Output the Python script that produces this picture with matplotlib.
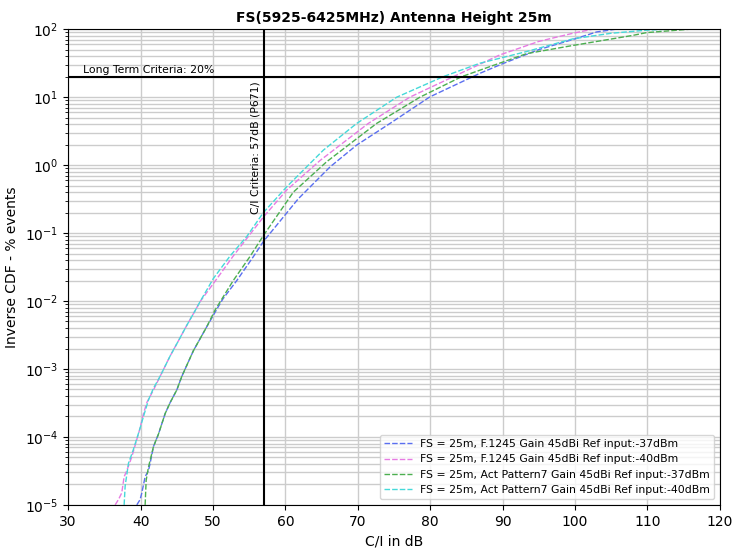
import numpy as np
from matplotlib import pyplot as plt

# curve data (C/I dB, % events)
f1245_37_x = [39.48, 39.94, 40.17, 40.63, 41.09, 41.32, 41.78, 42.47, 43.39, 44.08, 45.0, 45.7, 47.3, 49.15,
              50.6, 51.36, 53.29, 55.58, 57.0, 61.79, 66.17, 69.85, 74.45, 79.97, 86.87, 90.0, 95.0, 100.0,
              103.0, 105.7, 120]
f1245_37_y = [1.0e-5, 1.2e-5, 1.5e-5, 2.6e-5, 3.2e-5, 4.1e-5, 7.2e-5, 1.1e-4, 2.2e-4, 3.2e-4, 4.9e-4, 7.8e-4,
              1.86e-3, 4.2e-3, 7.8e-3, 1.07e-2, 2.0e-2, 4.5e-2, 7.6e-2, 0.32, 0.94, 1.97, 4.1, 10.1, 22.4, 31,
              50, 72, 91, 100, 100]

f1245_40_x = [36.49, 36.95, 37.4, 37.73, 38.1, 38.79, 39.85, 40.4, 40.86, 41.78, 42.7, 44.08, 45.23, 46.39,
              47.53, 48.22, 50.5, 52.8, 57.0, 60.19, 64.8, 71.45, 77.2, 83.2, 89.6, 95.0, 99.7, 102.5, 120]
f1245_40_y = [1.0e-5, 1.2e-5, 1.5e-5, 2.6e-5, 3.2e-5, 5.1e-5, 1.26e-4, 2.2e-4, 3.2e-4, 4.9e-4, 7.8e-4, 1.55e-3,
              2.6e-3, 4.4e-3, 7.2e-3, 9.8e-3, 2.1e-2, 4.6e-2, 0.174, 0.43, 1.17, 4.1, 10, 20, 41.7, 66, 87,
              100, 100]

act_37_x = [40.63, 40.77, 41.09, 41.78, 42.47, 43.39, 44.08, 45.0, 45.7, 47.3, 49.15, 50.3, 52.8, 55.1, 57.0,
            61.1, 65.7, 72.6, 78.6, 84.35, 89.6, 93.3, 99.7, 108.0, 109.9, 116.0, 120]
act_37_y = [1.0e-5, 2.3e-5, 3.6e-5, 7.2e-5, 1.1e-4, 2.2e-4, 3.2e-4, 4.9e-4, 7.8e-4, 1.86e-3, 4.2e-3, 7.4e-3,
            2.0e-2, 4.5e-2, 9.3e-2, 0.40, 1.12, 4.1, 10, 20, 31.6, 43.6, 57.5, 81, 89, 100, 100]

act_40_x = [37.73, 37.87, 38.33, 39.0, 39.85, 40.4, 41.09, 41.78, 42.7, 44.08, 45.23, 46.39, 47.53, 48.22,
            50.06, 52.36, 54.67, 56.96, 60.19, 65.25, 69.85, 75.4, 81.8, 86.9, 93.3, 99.7, 105.0, 109.9, 113.0, 120]
act_40_y = [1.0e-5, 1.9e-5, 4.1e-5, 6.5e-5, 1.26e-4, 2.0e-4, 3.5e-4, 5.2e-4, 7.8e-4, 1.55e-3, 2.6e-3, 4.4e-3,
            7.2e-3, 9.8e-3, 2.15e-2, 4.6e-2, 8.9e-2, 0.2, 0.48, 1.66, 4.1, 10, 20, 31.6, 46.8, 72, 87, 96.6,
            100, 100]

labels = [
    "FS = 25m, F.1245 Gain 45dBi Ref input:-37dBm",
    "FS = 25m, F.1245 Gain 45dBi Ref input:-40dBm",
    "FS = 25m, Act Pattern7 Gain 45dBi Ref input:-37dBm",
    "FS = 25m, Act Pattern7 Gain 45dBi Ref input:-40dBm",
]
colors = ['#5a6ff0', '#e77be3', '#4caf50', '#45d9d9']

ci_criteria = 57
lt_criteria = 20


def main():
    fig = plt.figure(figsize=(7.33, 5.5), dpi=100)
    ax = fig.add_axes([0.093, 0.082, 0.889, 0.865])

    series = [(f1245_37_x, f1245_37_y), (f1245_40_x, f1245_40_y),
              (act_37_x, act_37_y), (act_40_x, act_40_y)]
    for (x, y), lab, c in zip(series, labels, colors):
        ax.plot(x, y, color=c, linestyle='--', dashes=(4, 1.5), linewidth=1.0, label=lab)

    ax.set_yscale('log')
    ax.set_xlim(30, 120)
    ax.set_ylim(1e-5, 1e2)
    ax.grid(True, which='major', color='#cccccc', linewidth=1.0)
    ax.grid(True, which='minor', axis='y', color='#cccccc', linewidth=1.0)

    ax.axhline(lt_criteria, color='black', linewidth=1.5)
    ax.axvline(ci_criteria, color='black', linewidth=1.5)
    ax.text(32, 21.5, "Long Term Criteria: 20%", fontsize=7.8, va='bottom')
    ax.text(ci_criteria - 0.4, 17, "C/I Criteria: 57dB (P671)", fontsize=7.8,
            rotation=90, ha='right', va='top')

    ax.set_xlabel("C/I in dB")
    ax.set_ylabel("Inverse CDF - % events")
    ax.set_title("FS(5925-6425MHz) Antenna Height 25m", fontsize=10, fontweight='bold', pad=5)
    ax.legend(loc='lower right', fontsize=7.8, handlelength=2.5)

    fig.savefig("out.png", dpi=100)


if __name__ == '__main__':
    main()
